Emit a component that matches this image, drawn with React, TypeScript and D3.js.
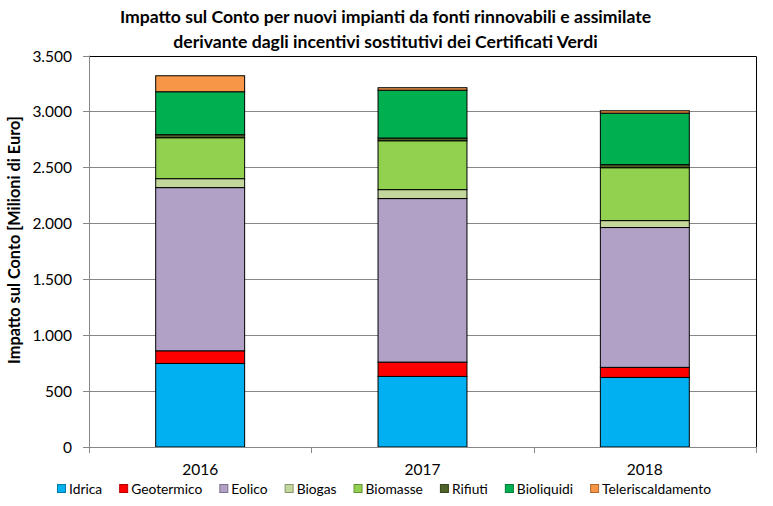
import React, { useEffect, useRef } from "react";
import * as d3 from "d3";

const years = ["2016", "2017", "2018"];
const seriesNames = ["Idrica", "Geotermico", "Eolico", "Biogas", "Biomasse", "Rifiuti", "Bioliquidi", "Teleriscaldamento"];
const seriesColors = ["#00B0F0", "#FF0000", "#B2A1C7", "#C3D69B", "#92D050", "#4F6228", "#00B050", "#F79646"];
const idrica = [747, 631, 622];
const geotermico = [113, 128, 90];
const eolico = [1459, 1462, 1250];
const biogas = [80, 80, 62];
const biomasse = [366, 437, 473];
const rifiuti = [27, 24, 27];
const bioliquidi = [384, 428, 461];
const teleriscaldamento = [143, 22, 21];
const yTicks = [0, 500, 1000, 1500, 2000, 2500, 3000, 3500];
const titleLines = [
  "Impatto sul Conto per nuovi impianti da fonti rinnovabili e assimilate",
  "derivante dagli incentivi sostitutivi dei Certificati Verdi",
];
const yTitle = "Impatto sul Conto [Milioni di Euro]";

const W = 773;
const H = 506;
const FONT = "Lato, 'Open Sans', sans-serif";

export default function App() {
  const ref = useRef<SVGSVGElement | null>(null);

  useEffect(() => {
    const svg = d3.select(ref.current);
    svg.selectAll("*").remove();

    const left = 89, right = 756, top = 55.5, bottom = 447;
    const x = d3.scaleBand().domain(years).range([left, right]).paddingInner(0).paddingOuter(0);
    const y = d3.scaleLinear().domain([0, 3500]).range([bottom, top]);
    const barW = x.bandwidth() * 0.4;

    const values = [idrica, geotermico, eolico, biogas, biomasse, rifiuti, bioliquidi, teleriscaldamento];
    const table = years.map((yr, i) => {
      const row: any = { year: yr };
      seriesNames.forEach((s, k) => (row[s] = values[k][i]));
      return row;
    });
    const stacked = d3.stack().keys(seriesNames)(table);

    // title
    const tg = svg.append("g").attr("font-family", FONT).attr("font-weight", "bold").attr("font-size", 17.6).attr("fill", "#000");
    titleLines.forEach((t, i) => {
      tg.append("text").attr("x", W / 2 - 1).attr("y", 23 + i * 24.5).attr("text-anchor", "middle").text(t);
    });

    // gridlines
    const grid = svg.append("g");
    yTicks.filter((t) => t > 0 && t < 3500).forEach((t) => {
      grid.append("line").attr("x1", left).attr("x2", right).attr("y1", Math.round(y(t)) + 0.5).attr("y2", Math.round(y(t)) + 0.5)
        .attr("stroke", "#878787").attr("stroke-width", 1);
    });

    // plot border top and right
    svg.append("path")
      .attr("d", `M${left},${Math.round(top) + 0.5}H${right + 0.5}V${bottom}`)
      .attr("fill", "none").attr("stroke", "#000").attr("stroke-width", 1);

    // bars
    const bars = svg.append("g");
    stacked.forEach((layer, k) => {
      layer.forEach((d: any) => {
        const cx = (x(d.data.year) as number) + x.bandwidth() / 2;
        bars.append("rect")
          .attr("x", cx - barW / 2)
          .attr("y", y(d[1]))
          .attr("width", barW)
          .attr("height", Math.max(0, y(d[0]) - y(d[1])))
          .attr("fill", seriesColors[k])
          .attr("stroke", "#000")
          .attr("stroke-width", 1);
      });
    });

    // y axis
    const ya = svg.append("g");
    ya.append("line").attr("x1", left + 0.5).attr("x2", left + 0.5).attr("y1", top).attr("y2", bottom).attr("stroke", "#878787");
    yTicks.forEach((t) => {
      const yy = Math.round(y(t)) + 0.5;
      ya.append("line").attr("x1", left - 6).attr("x2", left).attr("y1", yy).attr("y2", yy).attr("stroke", "#878787");
      ya.append("text").attr("x", 72).attr("y", yy + 5.5).attr("text-anchor", "end")
        .attr("font-family", FONT).attr("font-size", 15.5).attr("fill", "#000")
        .text(d3.format(",")(t).replace(/,/g, "."));
    });

    // x axis
    const xa = svg.append("g");
    xa.append("line").attr("x1", left).attr("x2", right + 0.5).attr("y1", bottom + 0.5).attr("y2", bottom + 0.5).attr("stroke", "#878787");
    years.forEach((yr) => {
      const x0 = x(yr) as number;
      xa.append("line").attr("x1", Math.round(x0) + 0.5).attr("x2", Math.round(x0) + 0.5).attr("y1", bottom).attr("y2", bottom + 6).attr("stroke", "#878787");
      xa.append("text").attr("x", x0 + x.bandwidth() / 2).attr("y", 475).attr("text-anchor", "middle")
        .attr("font-family", FONT).attr("font-size", 15.5).attr("fill", "#000").text(yr);
    });
    xa.append("line").attr("x1", right + 0.5).attr("x2", right + 0.5).attr("y1", bottom).attr("y2", bottom + 6).attr("stroke", "#878787");

    // y title
    svg.append("text")
      .attr("transform", `translate(20,240) rotate(-90)`)
      .attr("text-anchor", "middle")
      .attr("font-family", FONT).attr("font-weight", "bold").attr("font-size", 16.3).attr("fill", "#000")
      .text(yTitle);

    // legend
    const lg = svg.append("g").attr("font-family", FONT).attr("font-size", 13.8);
    let lx = 57;
    seriesNames.forEach((s, k) => {
      lg.append("rect").attr("x", lx + 0.5).attr("y", 484.5).attr("width", 8).attr("height", 8)
        .attr("fill", seriesColors[k]).attr("stroke", d3.color(seriesColors[k])!.darker(1).toString()).attr("stroke-width", 1);
      const t = lg.append("text").attr("x", lx + 12).attr("y", 493.5).attr("fill", "#000").text(s);
      const w = (t.node() as SVGTextElement).getComputedTextLength();
      lx = lx + 12 + w + 17;
    });
  }, []);

  return (
    <div style={{ width: W, height: H, position: "absolute", left: 0, top: 0, background: "#fff" }}>
      <svg ref={ref} width={W} height={H} style={{ display: "block" }} />
    </div>
  );
}
